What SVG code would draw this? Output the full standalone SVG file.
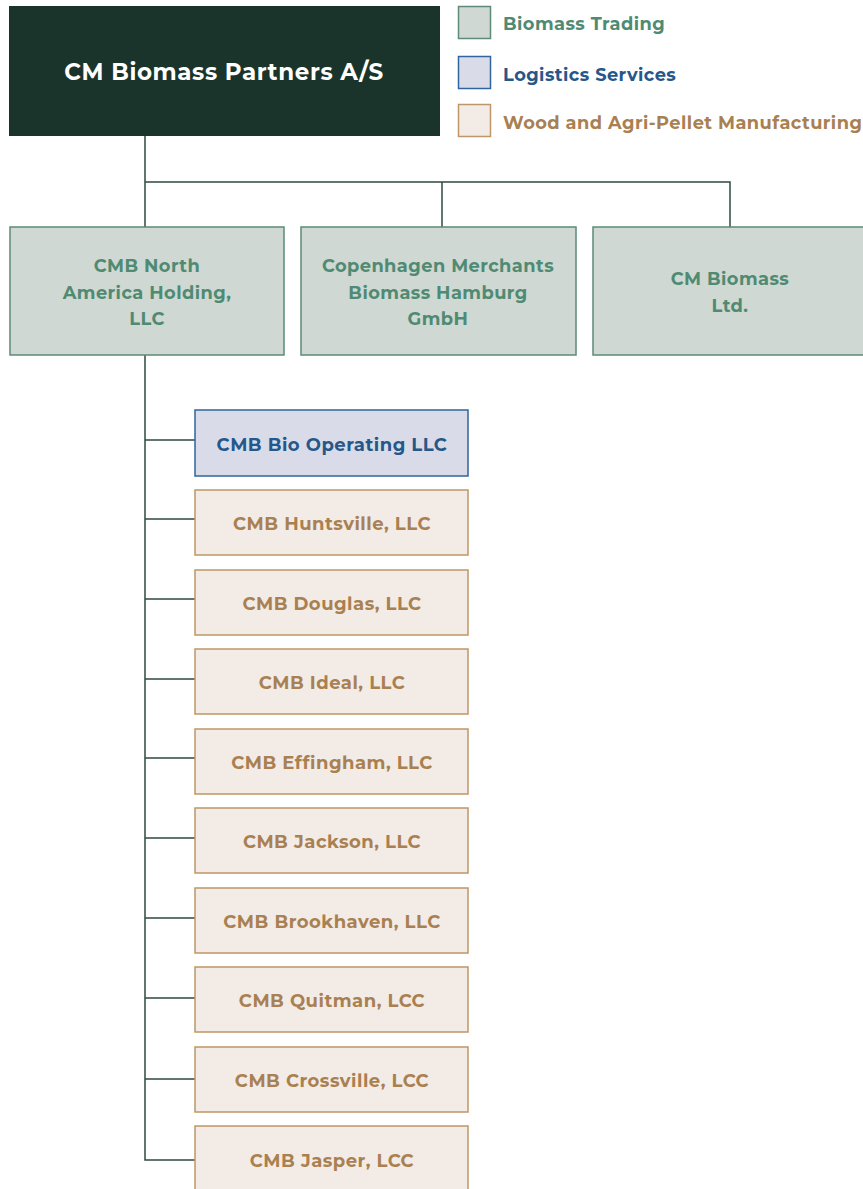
<svg xmlns="http://www.w3.org/2000/svg" width="863" height="1189" viewBox="0 0 863 1189">
  <style>
    text { font-family: "Montserrat", "Lato", "Noto Sans", "Liberation Sans", sans-serif; font-weight: bold; }
    .t { fill: #cfd8d2; stroke: #5e8b77; stroke-width: 1.5; }
    .l { fill: #d9dce8; stroke: #31649c; stroke-width: 1.5; }
    .m { fill: #f3ebe5; stroke: #bf9667; stroke-width: 1.5; }
    .tt { fill: #4f8a72; font-size: 17.8px; text-anchor: middle; letter-spacing: 0.45px; }
    .lt { fill: #26578a; font-size: 18px; text-anchor: middle; letter-spacing: 0.5px; }
    .mt { fill: #a98051; font-size: 18px; text-anchor: middle; letter-spacing: 0.5px; }
    .lg { font-size: 17.8px; text-anchor: start; letter-spacing: 0.45px; }
    .conn { stroke: #2f4a42; stroke-width: 1.5; fill: none; }
  </style>

  <!-- connectors -->
  <g id="connectors">
    <path class="conn" d="M145 136 V227 M145 182 H730 V227 M442 182 V227"/>
    <path class="conn" d="M145 355 V1160 H195"/>
    <path class="conn" d="M145 440 H195 M145 519 H195 M145 599 H195 M145 679 H195 M145 758 H195 M145 838 H195 M145 918 H195 M145 998 H195 M145 1079 H195"/>
  </g>

  <!-- parent company -->
  <g id="parent">
    <rect x="9" y="6" width="431" height="130" fill="#1a332b"/>
    <text x="224" y="80" fill="#ffffff" font-size="23" text-anchor="middle" style="letter-spacing:0.6px">CM Biomass Partners A/S</text>
  </g>

  <!-- legend -->
  <g id="legend">
    <rect class="t" x="458.5" y="6.5" width="32" height="32"/>
    <text class="lg" x="503" y="30" fill="#4f8a72">Biomass Trading</text>
    <rect class="l" x="458.5" y="56.5" width="32" height="32"/>
    <text class="lg" x="503" y="81" fill="#26578a">Logistics Services</text>
    <rect class="m" x="458.5" y="104.5" width="32" height="32"/>
    <text class="lg" x="503" y="129" fill="#a98051">Wood and Agri-Pellet Manufacturing</text>
  </g>

  <!-- holding tier -->
  <g id="na-holding">
    <rect class="t" x="10" y="227" width="274" height="128"/>
    <text class="tt" x="147" y="272">CMB North</text>
    <text class="tt" x="147" y="299">America Holding,</text>
    <text class="tt" x="147" y="325">LLC</text>
  </g>
  <g id="cm-hamburg">
    <rect class="t" x="301" y="227" width="275" height="128"/>
    <text class="tt" x="438" y="272">Copenhagen Merchants</text>
    <text class="tt" x="438" y="299">Biomass Hamburg</text>
    <text class="tt" x="438" y="325">GmbH</text>
  </g>
  <g id="cm-ltd">
    <rect class="t" x="593" y="227" width="280" height="128"/>
    <text class="tt" x="730" y="285">CM Biomass</text>
    <text class="tt" x="730" y="312">Ltd.</text>
  </g>

  <!-- subsidiaries -->
  <g id="bio-operating">
    <rect class="l" x="195" y="410" width="273" height="66"/>
    <text class="lt" x="332" y="451">CMB Bio Operating LLC</text>
  </g>
  <g id="huntsville">
    <rect class="m" x="195" y="490" width="273" height="65"/>
    <text class="mt" x="332" y="530">CMB Huntsville, LLC</text>
  </g>
  <g id="douglas">
    <rect class="m" x="195" y="570" width="273" height="65"/>
    <text class="mt" x="332" y="610">CMB Douglas, LLC</text>
  </g>
  <g id="ideal">
    <rect class="m" x="195" y="649" width="273" height="65"/>
    <text class="mt" x="332" y="689">CMB Ideal, LLC</text>
  </g>
  <g id="effingham">
    <rect class="m" x="195" y="729" width="273" height="65"/>
    <text class="mt" x="332" y="769">CMB Effingham, LLC</text>
  </g>
  <g id="jackson">
    <rect class="m" x="195" y="808" width="273" height="65"/>
    <text class="mt" x="332" y="848">CMB Jackson, LLC</text>
  </g>
  <g id="brookhaven">
    <rect class="m" x="195" y="888" width="273" height="65"/>
    <text class="mt" x="332" y="928">CMB Brookhaven, LLC</text>
  </g>
  <g id="quitman">
    <rect class="m" x="195" y="967" width="273" height="65"/>
    <text class="mt" x="332" y="1007">CMB Quitman, LCC</text>
  </g>
  <g id="crossville">
    <rect class="m" x="195" y="1047" width="273" height="65"/>
    <text class="mt" x="332" y="1087">CMB Crossville, LCC</text>
  </g>
  <g id="jasper">
    <rect class="m" x="195" y="1126" width="273" height="70"/>
    <text class="mt" x="332" y="1167">CMB Jasper, LCC</text>
  </g>
</svg>
